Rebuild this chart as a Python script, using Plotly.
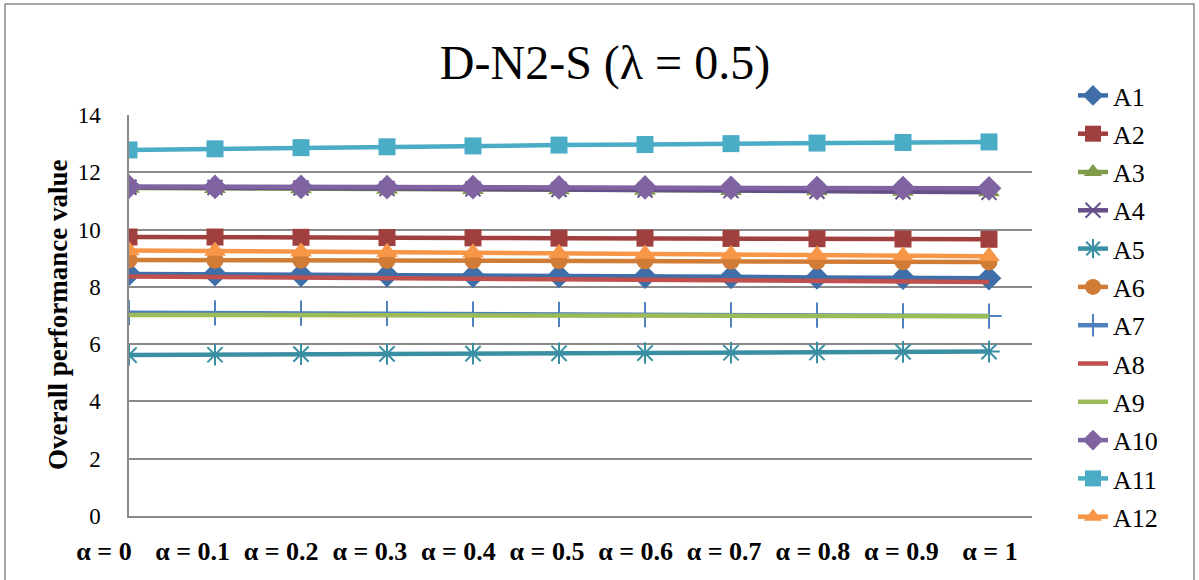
import plotly.graph_objects as go

# Weighting parameter and its axis labels
alpha = [0, 0.1, 0.2, 0.3, 0.4, 0.5, 0.6, 0.7, 0.8, 0.9, 1]
alpha_labels = ["α = 0", "α = 0.1", "α = 0.2", "α = 0.3", "α = 0.4", "α = 0.5",
                "α = 0.6", "α = 0.7", "α = 0.8", "α = 0.9", "α = 1"]

# Overall performance value of each alternative
A1 = [8.45, 8.44, 8.42, 8.41, 8.39, 8.38, 8.36, 8.35, 8.33, 8.32, 8.30]
A2 = [9.74, 9.74, 9.73, 9.72, 9.71, 9.70, 9.70, 9.69, 9.68, 9.67, 9.66]
A3 = [11.45, 11.44, 11.43, 11.42, 11.41, 11.40, 11.38, 11.37, 11.36, 11.35, 11.33]
A4 = [11.48, 11.47, 11.45, 11.43, 11.42, 11.40, 11.38, 11.36, 11.34, 11.32, 11.30]
A5 = [5.62, 5.63, 5.65, 5.66, 5.67, 5.68, 5.69, 5.70, 5.71, 5.73, 5.74]
A6 = [8.94, 8.93, 8.93, 8.92, 8.91, 8.91, 8.90, 8.89, 8.89, 8.88, 8.87]
A7 = [7.10, 7.09, 7.08, 7.07, 7.05, 7.04, 7.03, 7.02, 7.01, 6.99, 6.98]
A8 = [8.36, 8.34, 8.32, 8.30, 8.28, 8.26, 8.25, 8.23, 8.21, 8.19, 8.17]
A9 = [7.02, 7.02, 7.01, 7.01, 7.00, 7.00, 6.99, 6.99, 6.98, 6.98, 6.97]
A10 = [11.50, 11.49, 11.49, 11.48, 11.48, 11.47, 11.47, 11.46, 11.45, 11.45, 11.44]
A11 = [12.78, 12.82, 12.86, 12.89, 12.92, 12.95, 12.97, 13.00, 13.02, 13.04, 13.06]
A12 = [9.27, 9.25, 9.23, 9.21, 9.19, 9.17, 9.15, 9.13, 9.11, 9.09, 9.07]

series = [
    ("A1", A1, "#3F6EA8", "diamond", 19, 0),
    ("A2", A2, "#A0403E", "square", 17, 0),
    ("A3", A3, "#7F9A48", "triangle-up", 19, 0),
    ("A4", A4, "#66508A", "x-thin-open", 15, 2),
    ("A5", A5, "#3B8FA3", "asterisk-open", 18, 2),
    ("A6", A6, "#D07B36", "circle", 17, 0),
    ("A7", A7, "#4F81BD", "cross-thin-open", 18, 2),
    ("A8", A8, "#C0504D", None, 0, 0),
    ("A9", A9, "#9BBB59", None, 0, 0),
    ("A10", A10, "#8064A2", "diamond", 19, 0),
    ("A11", A11, "#4BACC6", "square", 17, 0),
    ("A12", A12, "#F79646", "triangle-up", 19, 0),
]

W, H = 1199, 580
ML, MR, MT, MB = 95, 167, 115, 64          # outer margins (px)
AXIS_X = 129                                # pixel column of the value axis
PLOT_R = W - MR
PW = PLOT_R - ML
PH = H - MT - MB
SERIF = "Liberation Serif"

fig = go.Figure()
for i, (name, vals, color, sym, size, mlw) in enumerate(series):
    kw = dict(mode="lines")
    if sym:
        kw = dict(mode="lines+markers",
                  marker=dict(symbol=sym, size=size, color=color,
                              line=dict(color=color, width=mlw)))
    fig.add_trace(go.Scatter(x=alpha, y=vals, name=name, legendgroup=name,
                             line=dict(color=color, width=4.5), **kw))

# carrier trace for the category label axis
fig.add_trace(go.Scatter(x=[], y=[], xaxis="x2", yaxis="y2",
                         showlegend=False, hoverinfo="skip"))

# category labels: centres at 104 px + 88.6 px per step
lab0, lab_step = 104, 88.6
x2_range = [(ML - lab0) / lab_step, (PLOT_R - lab0) / lab_step]

def px_x(p):
    return (p - ML) / PW

def px_y(p):
    return (H - MB - p) / PH

fig.update_layout(
    width=W, height=H,
    margin=dict(l=ML, r=MR, t=MT, b=MB, pad=0),
    paper_bgcolor="white", plot_bgcolor="rgba(0,0,0,0)",
    font=dict(family=SERIF, color="black"),
    title=dict(text="D-N2-S (λ = 0.5)", x=605 / W, xanchor="center",
               y=1 - 62 / H, yanchor="middle",
               font=dict(family=SERIF, size=48, color="black")),
    xaxis=dict(domain=[px_x(AXIS_X), 1], range=[0, 1.05],
               showgrid=False, zeroline=False, showticklabels=False,
               showline=True, linecolor="#8A8A8A", linewidth=1.5, ticks=""),
    yaxis=dict(range=[0, 14], dtick=2, showgrid=True, gridcolor="#8A8A8A",
               gridwidth=1.5, zeroline=False, showline=True,
               linecolor="#8A8A8A", linewidth=1.5, ticks="",
               ticklabelstandoff=22,
               tickfont=dict(family=SERIF, size=23, color="black")),
    xaxis2=dict(domain=[0, 1], anchor="y2", range=x2_range,
                tickvals=list(range(len(alpha_labels))), ticktext=alpha_labels,
                showgrid=False, zeroline=False, showline=False, ticks="",
                ticklabelstandoff=17,
                tickfont=dict(family=SERIF, size=26, color="black",
                              weight="bold")),
    yaxis2=dict(domain=[0, 1], anchor="x2", range=[0, 14], visible=False),
    legend=dict(x=px_x(1073), y=px_y(72), xanchor="left", yanchor="top",
                font=dict(family=SERIF, size=26, color="black"),
                tracegroupgap=1.5, bgcolor="rgba(0,0,0,0)", maxheight=560),
    annotations=[dict(text="<b>Overall performance value</b>", textangle=-90,
                      xref="paper", yref="paper", x=px_x(58), y=px_y(315),
                      xanchor="center", yanchor="middle", showarrow=False,
                      font=dict(family=SERIF, size=27, color="black"))],
    shapes=[dict(type="rect", xref="paper", yref="paper",
                 x0=px_x(5), x1=px_x(1194), y0=px_y(590), y1=px_y(4),
                 line=dict(color="#8A8A8A", width=1.5), layer="below")],
    showlegend=True,
)

fig.write_html("out.html")
